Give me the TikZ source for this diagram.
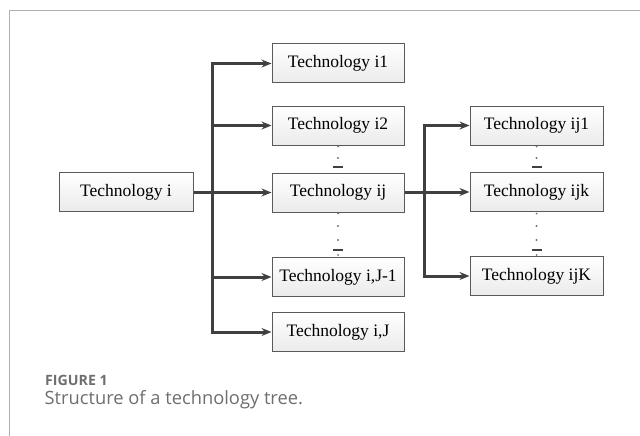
\documentclass[tikz,border=0pt]{standalone}
\usepackage{fontspec}
\setmainfont{Liberation Serif}
\newfontfamily\capfont{Open Sans}
\usetikzlibrary{arrows.meta}
\definecolor{framegray}{HTML}{B0B0B0}
\definecolor{linegray}{HTML}{404040}
\definecolor{boxborder}{HTML}{5A5A5A}
\definecolor{capgray}{HTML}{6E6E6E}
\tikzset{
  techbox/.style={draw=boxborder, line width=1pt, top color=white, bottom color=gray!16,
    minimum width=132pt, minimum height=39pt, inner sep=0pt,
    font=\fontsize{17.5}{20}\selectfont},
  conn/.style={draw=linegray, line width=3pt, line join=miter},
  arr/.style={conn, -{Stealth[length=10pt,width=8pt]}},
  dotmark/.style={fill=gray!90!black, draw=none},
  dashmark/.style={draw=linegray, line width=2.4pt}
}
\begin{document}
\begin{tikzpicture}[x=1pt,y=-1pt]
\useasboundingbox (0,0) rectangle (640,436);
% frame
\draw[framegray, line width=1pt] (9,436) -- (9,11) -- (640,11);
% nodes
\node[techbox, minimum width=134pt] (ti) at (126,192) {Technology i};
\node[techbox] (i1) at (338,63.5) {Technology i1};
\node[techbox] (i2) at (338,125.5) {Technology i2};
\node[techbox] (ij) at (338,192.5) {Technology ij};
\node[techbox] (iJ1) at (338,277) {Technology i,J-1};
\node[techbox] (iJ) at (338,332) {Technology i,J};
\node[techbox, minimum width=133pt] (ij1) at (536.5,125.5) {Technology ij1};
\node[techbox, minimum width=133pt] (ijk) at (536.5,192) {Technology ijk};
\node[techbox, minimum width=133pt] (ijK) at (536.5,276) {Technology ijK};
\coordinate (tr) at (212,0);
\coordinate (tr2) at (424,0);
% first level connectors
\draw[arr] (tr |- ti.east) -- (tr |- i1.west) -- (i1.west);
\draw[arr] (tr |- ti.east) -- (tr |- iJ.west) -- (iJ.west);
\draw[conn] (ti.east) -- (tr |- ti.east);
\foreach \n in {i2,ij,iJ1}{
  \draw[arr] (tr |- \n.west) -- (\n.west);
}
% second level connectors
\draw[arr] (tr2 |- ij.east) -- (tr2 |- ij1.west) -- (ij1.west);
\draw[arr] (tr2 |- ij.east) -- (tr2 |- ijK.west) -- (ijK.west);
\draw[conn] (ij.east) -- (tr2 |- ij.east);
\draw[arr] (tr2 |- ijk.west) -- (ijk.west);
% ellipsis marks
\foreach \x in {338,536.5}{
  \fill[dotmark] (\x,146.5) circle (1pt);
  \fill[dotmark] (\x,158) circle (1.1pt);
  \draw[dashmark] (\x-5,167) -- (\x+5,167);
  \fill[dotmark] (\x,213.5) circle (1pt);
  \fill[dotmark] (\x,226) circle (1.1pt);
  \fill[dotmark] (\x,240) circle (1.1pt);
  \draw[dashmark] (\x-5,250) -- (\x+5,250);
  \fill[dotmark] (\x,255) circle (1pt);
}
% caption
\node[anchor=west, inner sep=0pt, text=capgray, font=\capfont\fontsize{14.2}{16}\selectfont\bfseries] (fig) at (45,380) {FIGURE 1};
\node[anchor=west, inner sep=0pt, text=capgray, font=\capfont\fontsize{18.3}{22}\selectfont] (cap) at (44.5,400) {Structure of a technology tree.};
\end{tikzpicture}
\end{document}
